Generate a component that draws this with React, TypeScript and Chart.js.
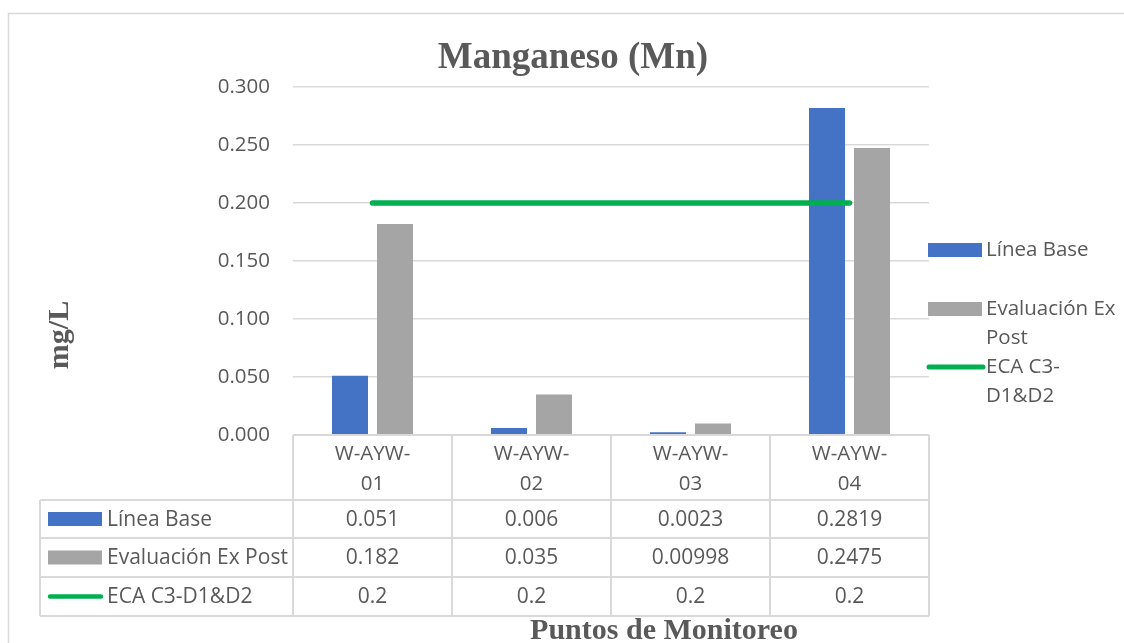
import React, { useEffect, useRef } from "react";
import { Chart, registerables } from "chart.js";

Chart.register(...registerables);

// ---- Data ----
const categories = ["W-AYW-01", "W-AYW-02", "W-AYW-03", "W-AYW-04"];
const lineaBase = [0.051, 0.006, 0.0023, 0.2819];
const exPost = [0.182, 0.035, 0.00998, 0.2475];
const eca = [0.2, 0.2, 0.2, 0.2];
const seriesNames = ["Línea Base", "Evaluación Ex Post", "ECA C3-D1&D2"];
const legendLines = [["Línea Base"], ["Evaluación Ex", "Post"], ["ECA C3-", "D1&D2"]];
const yMin = 0;
const yMax = 0.3;
const yStep = 0.05;
const chartTitle = "Manganeso (Mn)";
const yTitle = "mg/L";
const xTitle = "Puntos de Monitoreo";

const BLUE = "#4472C4";
const GRAY = "#A5A5A5";
const GREEN = "#00B050";
const TEXT = "#595959";
const GRID = "#d9d9d9";
const SANS = '"Open Sans", "DejaVu Sans", sans-serif';
const SERIF = '"Liberation Serif", "DejaVu Serif", serif';

const overlayPlugin = {
  id: "overlay",
  afterDraw(chart: any) {
    const ctx: CanvasRenderingContext2D = chart.ctx;
    const xs = chart.scales.x;
    const ca = chart.chartArea;
    const datasets = chart.data.datasets;
    ctx.save();

    // outer frame
    ctx.strokeStyle = GRID;
    ctx.lineWidth = 1.5;
    ctx.strokeRect(8.5, 13.5, 1300, 800);

    // data table
    const n = categories.length;
    const colW = (ca.right - ca.left) / n;
    const tableLeft = 40;
    const rowEdges = [500, 538, 577, 616];
    ctx.strokeStyle = GRID;
    ctx.lineWidth = 2;
    ctx.beginPath();
    ctx.moveTo(ca.left, ca.bottom);
    ctx.lineTo(ca.right, ca.bottom);
    for (const ry of rowEdges) {
      ctx.moveTo(tableLeft, ry);
      ctx.lineTo(ca.right, ry);
    }
    ctx.moveTo(tableLeft, rowEdges[0]);
    ctx.lineTo(tableLeft, rowEdges[rowEdges.length - 1]);
    for (let i = 0; i <= n; i++) {
      const cx = ca.left + i * colW;
      ctx.moveTo(cx, ca.bottom);
      ctx.lineTo(cx, rowEdges[rowEdges.length - 1]);
    }
    ctx.stroke();

    ctx.font = `21px ${SANS}`;
    ctx.textBaseline = "middle";
    for (let r = 0; r < datasets.length; r++) {
      const ds = datasets[r];
      const yMid = (rowEdges[r] + rowEdges[r + 1]) / 2;
      ctx.fillStyle = TEXT;
      ctx.textAlign = "center";
      ds.data.forEach((v: number, i: number) => {
        ctx.fillText(String(v), xs.getPixelForValue(i), yMid + 1);
      });
      // key
      if (ds.type === "line") {
        ctx.strokeStyle = ds.borderColor;
        ctx.lineWidth = 4.5;
        ctx.lineCap = "round";
        ctx.beginPath();
        ctx.moveTo(50, yMid);
        ctx.lineTo(101, yMid);
        ctx.stroke();
      } else {
        ctx.fillStyle = ds.backgroundColor;
        ctx.fillRect(48, yMid - 7, 54, 14);
      }
      ctx.fillStyle = TEXT;
      ctx.textAlign = "left";
      ctx.fillText(ds.label, 107, yMid + 1);
    }

    // legend (right)
    const legendY = [250, 309, 367];
    for (let r = 0; r < datasets.length; r++) {
      const ds = datasets[r];
      const y0 = legendY[r];
      if (ds.type === "line") {
        ctx.strokeStyle = ds.borderColor;
        ctx.lineWidth = 5;
        ctx.lineCap = "round";
        ctx.beginPath();
        ctx.moveTo(929, y0);
        ctx.lineTo(983, y0);
        ctx.stroke();
      } else {
        ctx.fillStyle = ds.backgroundColor;
        ctx.fillRect(928, y0 - 7, 54, 14);
      }
      ctx.fillStyle = TEXT;
      ctx.textAlign = "left";
      ctx.font = `20.5px ${SANS}`;
      legendLines[r].forEach((t, k) => {
        ctx.fillText(t, 986, y0 + k * 29);
      });
    }

    // title
    ctx.fillStyle = TEXT;
    ctx.textAlign = "center";
    ctx.textBaseline = "alphabetic";
    ctx.font = `bold 37px ${SERIF}`;
    ctx.fillText(chartTitle, 573, 68);

    // y title
    ctx.save();
    ctx.translate(68, 335);
    ctx.rotate(-Math.PI / 2);
    ctx.font = `bold 30px ${SERIF}`;
    ctx.fillText(yTitle, 0, 0);
    ctx.restore();

    // x title
    ctx.font = `bold 30px ${SERIF}`;
    ctx.fillText(xTitle, 664, 639);

    ctx.restore();
  },
};

export default function App() {
  const ref = useRef<HTMLCanvasElement | null>(null);
  useEffect(() => {
    if (!ref.current) return;
    const chart = new Chart(ref.current, {
      type: "bar",
      data: {
        labels: categories.map((c) => [c.slice(0, 6), c.slice(6)]),
        datasets: [
          {
            type: "bar",
            label: seriesNames[0],
            data: lineaBase,
            backgroundColor: BLUE,
            borderWidth: 0,
            order: 2,
            categoryPercentage: 0.566,
            barPercentage: 0.8,
          } as any,
          {
            type: "bar",
            label: seriesNames[1],
            data: exPost,
            backgroundColor: GRAY,
            borderWidth: 0,
            order: 2,
            categoryPercentage: 0.566,
            barPercentage: 0.8,
          } as any,
          {
            type: "line",
            label: seriesNames[2],
            data: eca,
            borderColor: GREEN,
            backgroundColor: GREEN,
            borderWidth: 5.5,
            borderCapStyle: "round",
            pointRadius: 0,
            fill: false,
            order: 0,
          } as any,
        ],
      },
      options: {
        animation: false,
        responsive: false,
        devicePixelRatio: 1,
        layout: { padding: { left: 193, right: 195, top: 87, bottom: 0 } },
        plugins: {
          legend: { display: false },
          title: { display: false },
          tooltip: { enabled: false },
        },
        scales: {
          x: {
            grid: { display: false, drawTicks: false },
            border: { display: false },
            ticks: {
              color: TEXT,
              font: { size: 20.5, family: SANS, lineHeight: 1.46 },
              padding: 4,
              maxRotation: 0,
              autoSkip: false,
            },
            afterFit: (s: any) => {
              s.height = 208;
            },
          },
          y: {
            min: yMin,
            max: yMax,
            grid: { color: GRID, lineWidth: 1.5, drawTicks: false },
            border: { display: false },
            ticks: {
              stepSize: yStep,
              color: TEXT,
              font: { size: 20.5, family: SANS },
              padding: 23,
              callback: (v: any) => Number(v).toFixed(3),
            },
            afterFit: (s: any) => {
              s.width = 100;
            },
          },
        },
      },
      plugins: [overlayPlugin],
    });
    return () => chart.destroy();
  }, []);
  return (
    <div style={{ position: "absolute", left: 0, top: 0, width: 1124, height: 643, overflow: "hidden", background: "#fff" }}>
      <canvas ref={ref} width={1124} height={643} style={{ display: "block" }} />
    </div>
  );
}
